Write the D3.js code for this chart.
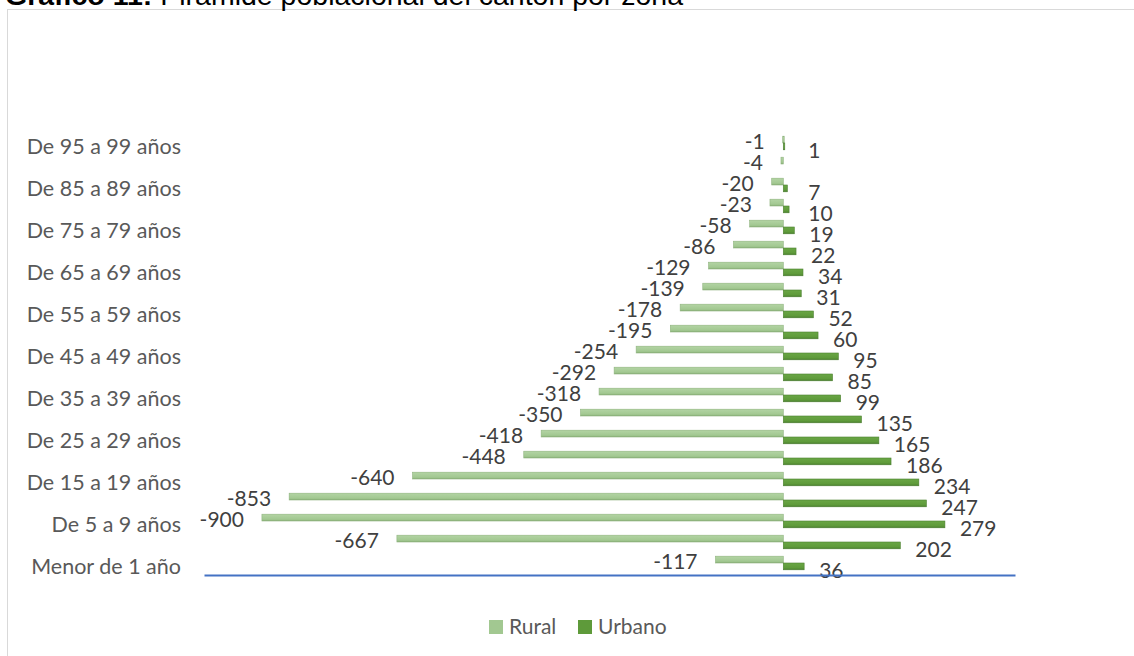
<!DOCTYPE html>
<html><head><meta charset="utf-8">
<script src="https://cdn.jsdelivr.net/npm/d3@7"></script>
<style>
html,body{margin:0;padding:0;background:#fff;overflow:hidden;}
svg{display:block;}
</style></head>
<body>
<svg id="chart" width="1134" height="656"></svg>
<script>
const categories = ["Menor de 1 año","De 1 a 4 años","De 5 a 9 años","De 10 a 14 años","De 15 a 19 años",
  "De 20 a 24 años","De 25 a 29 años","De 30 a 34 años","De 35 a 39 años","De 40 a 44 años",
  "De 45 a 49 años","De 50 a 54 años","De 55 a 59 años","De 60 a 64 años","De 65 a 69 años",
  "De 70 a 74 años","De 75 a 79 años","De 80 a 84 años","De 85 a 89 años","De 90 a 94 años",
  "De 95 a 99 años"];
const rural = [-117,-667,-900,-853,-640,-448,-418,-350,-318,-292,-254,-195,-178,-139,-129,-86,-58,-23,-20,-4,-1];
const urbano = [36,202,279,247,234,186,165,135,99,85,95,60,52,31,34,22,19,10,7,null,1];
const seriesNames = ["Rural","Urbano"];
const xDomain = [-1000, 400];

const svg = d3.select("#chart");
const W = 1134, H = 656;

// frame
svg.append("rect").attr("x",7.5).attr("y",9.5).attr("width",W+20).attr("height",H+20)
  .attr("fill","#fff").attr("stroke","#D9D9D9").attr("stroke-width",1);

// title (clipped at top)
const title = svg.append("text").attr("x",5).attr("y",5)
  .attr("font-family","Liberation Sans, Arial, sans-serif").attr("font-size",28.5).attr("fill","#000");
title.append("tspan").attr("font-weight","bold").text("Gráfico 11: ");
title.append("tspan").text("Pirámide poblacional del cantón por zona");

const x = d3.scaleLinear().domain(xDomain).range([204, 1015]);
const y = d3.scaleBand().domain(d3.range(categories.length)).range([575.5, 134.5]).padding(0);

const defs = svg.append("defs");
function grad(id, c1, c2, c3){
  const g = defs.append("linearGradient").attr("id",id).attr("x1",0).attr("y1",0).attr("x2",0).attr("y2",1);
  g.append("stop").attr("offset","0%").attr("stop-color",c1);
  g.append("stop").attr("offset","75%").attr("stop-color",c2);
  g.append("stop").attr("offset","100%").attr("stop-color",c3);
}
grad("gRural","#B3D4A4","#A2C891","#86AE74");
grad("gUrb","#6AA645","#5E9A3A","#44782A");

const bh = 6.8;
const fontLbl = "Lato, 'Open Sans', sans-serif";

const rows = categories.map((c,i)=>({i, c, r: rural[i], u: urbano[i]}));
const pc = i => y(i) + y.bandwidth()/2 - 2;

// rural bars
svg.append("g").selectAll("rect").data(rows).join("rect")
  .attr("x", d => x(d.r)).attr("width", d => Math.max(x(0)-x(d.r), 1.5))
  .attr("y", d => pc(d.i) - bh).attr("height", bh)
  .attr("fill","url(#gRural)").attr("stroke","#8FB37F").attr("stroke-width",0.6);

// urban bars
svg.append("g").selectAll("rect").data(rows.filter(d=>d.u!=null)).join("rect")
  .attr("x", x(0)).attr("width", d => Math.max(x(d.u)-x(0), 1.5))
  .attr("y", d => pc(d.i)).attr("height", bh)
  .attr("fill","url(#gUrb)").attr("stroke","#4C8030").attr("stroke-width",0.6);

// rural labels
svg.append("g").selectAll("text").data(rows).join("text")
  .attr("x", d => x(d.r) - 18).attr("y", d => pc(d.i) - bh/2 + 2)
  .attr("dy","0.35em").attr("text-anchor","end")
  .attr("font-family",fontLbl).attr("font-size",21).attr("fill","#404040")
  .text(d => d.r);

// urban labels
svg.append("g").selectAll("text").data(rows.filter(d=>d.u!=null)).join("text")
  .attr("x", d => Math.max(x(d.u) + 15, x(0) + 25)).attr("y", d => pc(d.i) + bh/2 + 4)
  .attr("dy","0.35em").attr("text-anchor","start")
  .attr("font-family",fontLbl).attr("font-size",21).attr("fill","#404040")
  .text(d => d.u);

// category axis labels (every other)
svg.append("g").selectAll("text").data(rows.filter(d=>d.i%2===0)).join("text")
  .attr("x", 181).attr("y", d => y(d.i) + y.bandwidth()/2 + 1)
  .attr("dy","0.35em").attr("text-anchor","end")
  .attr("font-family",fontLbl).attr("font-size",21.5).attr("fill","#595959")
  .text(d => d.c);

// value axis line
const xAxis = d3.axisBottom(x).tickValues([]).tickSizeOuter(0);
const ax = svg.append("g").attr("transform","translate(0,575)").call(xAxis);
ax.select(".domain").attr("stroke","#4472C4").attr("stroke-width",2);

// legend
const leg = svg.append("g");
const legItems = [{n:seriesNames[0], c:"#A2C891", x:489},{n:seriesNames[1], c:"#5E9A3A", x:578}];
leg.selectAll("rect").data(legItems).join("rect")
  .attr("x",d=>d.x).attr("y",620).attr("width",14).attr("height",14).attr("fill",d=>d.c);
leg.selectAll("text").data(legItems).join("text")
  .attr("x",d=>d.x+20).attr("y",627).attr("dy","0.35em")
  .attr("font-family",fontLbl).attr("font-size",21).attr("fill","#595959")
  .text(d=>d.n);
</script>
</body></html>
